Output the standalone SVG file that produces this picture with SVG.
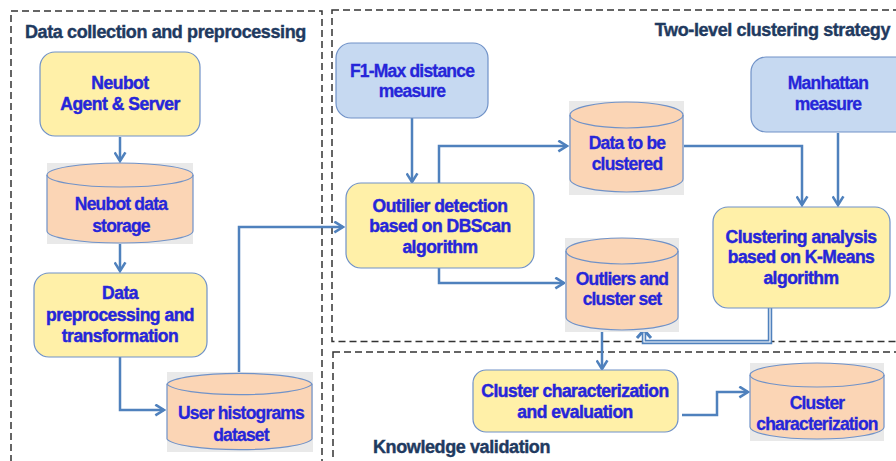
<svg xmlns="http://www.w3.org/2000/svg" width="896" height="461" viewBox="0 0 896 461">
<defs>
<marker id="arr" viewBox="0 0 12 12" refX="10" refY="6" markerWidth="13" markerHeight="13" markerUnits="userSpaceOnUse" orient="auto">
<path d="M2,1 L10,6 L2,11" fill="none" stroke="#4f81bd" stroke-width="2.4"/>
</marker>
</defs>
<style>
.panel{fill:none;stroke:#333;stroke-width:1.5;stroke-dasharray:7 4}
.title{font-family:"Liberation Sans",Arial,sans-serif;font-weight:bold;font-size:18px;fill:#1f3a60;stroke:#1f3a60;stroke-width:0.4;letter-spacing:-0.4px}
.t{font-family:"Liberation Sans",Arial,sans-serif;font-weight:bold;font-size:17.5px;fill:#2626d9;stroke:#2626d9;stroke-width:0.45;text-anchor:middle;letter-spacing:-0.5px}
.tn{font-family:"Liberation Sans",Arial,sans-serif;font-weight:bold;font-size:17.5px;fill:#2626d9;stroke:#2626d9;stroke-width:0.3;text-anchor:middle;letter-spacing:-0.8px}
.yb{fill:#fff0a8;stroke:#7092c8;stroke-width:1.2}
.bb{fill:#c6d9f1;stroke:#7092c8;stroke-width:1.2}
.cyl{fill:#fbd5b5;stroke:#7092c8;stroke-width:1.2}
.cl{fill:none;stroke:#7092c8;stroke-width:1.2}
.sh{fill:#e9e9e9}
.c{fill:none;stroke:#4f81bd;stroke-width:2.5;marker-end:url(#arr)}
</style>

<rect class="panel" x="11" y="11" width="311" height="470"/>
<rect class="panel" x="332" y="10" width="600" height="331.5"/>
<rect class="panel" x="333" y="352" width="600" height="140"/>

<text class="title" x="25" y="38">Data collection and preprocessing</text>
<text class="title" x="890" y="36" text-anchor="end">Two-level clustering strategy</text>
<text class="title" x="373" y="453">Knowledge validation</text>

<g id="connectors">
<path class="c" d="M120,137 V161"/>
<path class="c" d="M120,244 V271"/>
<path class="c" d="M120,357 V410 H164"/>
<path class="c" d="M239,372 V227 H343"/>
<path class="c" d="M412,118 V182"/>
<path class="c" d="M439,183 V146 H567"/>
<path class="c" d="M439,268 V283 H564"/>
<path class="c" d="M683,146 H802 V205"/>
<path class="c" d="M838,133 V205"/>
<path d="M770,308 V342 H644 V333" fill="none" stroke="#4f81bd" stroke-width="4.5"/>
<path d="M770,308 V342 H644 V333" fill="none" stroke="#ffffff" stroke-width="1.2"/>
<path d="M637,338 L644,330 L651,338" fill="none" stroke="#4f81bd" stroke-width="3"/>
<path class="c" d="M602,330 V369"/>
<path class="c" d="M682,415 H717 V392 H748"/>
</g>

<g id="neubot">
<rect class="yb" x="40" y="52" width="160" height="84" rx="15"/>
<text class="t" x="120" y="89">Neubot</text>
<text class="t" x="120" y="110">Agent &amp; Server</text>
</g>

<g id="storage">
<rect class="sh" x="47" y="163" width="146" height="81"/>
<path class="cyl" d="M47,175 A73,12 0 0 1 193,175 V231 A73,12 0 0 1 47,231 Z"/>
<path class="cl" d="M47,175 A73,12 0 0 0 193,175"/>
<text class="tn" x="121" y="210">Neubot data</text>
<text class="tn" x="121" y="232">storage</text>
</g>

<g id="preprocessing">
<rect class="yb" x="34" y="273" width="173" height="84" rx="15"/>
<text class="t" x="120" y="299">Data</text>
<text class="t" x="120" y="321">preprocessing and</text>
<text class="t" x="120" y="342">transformation</text>
</g>

<g id="histograms">
<rect class="sh" x="167" y="372" width="146" height="80"/>
<path class="cyl" d="M167,384 A73,12 0 0 1 312,384 V439 A73,12 0 0 1 167,439 Z"/>
<path class="cl" d="M167,384 A73,12 0 0 0 312,384"/>
<text class="tn" x="241" y="419">User histograms</text>
<text class="tn" x="241" y="441">dataset</text>
</g>

<g id="f1max">
<rect class="bb" x="336" y="43" width="152" height="75" rx="15"/>
<text class="tn" x="412" y="77">F1-Max distance</text>
<text class="tn" x="412" y="97">measure</text>
</g>

<g id="dbscan">
<rect class="yb" x="346" y="183" width="188" height="85" rx="15"/>
<text class="t" x="440" y="212">Outilier detection</text>
<text class="t" x="440" y="232">based on DBScan</text>
<text class="t" x="440" y="253">algorithm</text>
</g>

<g id="tobeclustered">
<rect class="sh" x="569" y="101" width="115" height="94"/>
<path class="cyl" d="M570,115 A56.5,13 0 0 1 683,115 V179 A56.5,13 0 0 1 570,179 Z"/>
<path class="cl" d="M570,115 A56.5,13 0 0 0 683,115"/>
<text class="tn" x="627" y="149">Data to be</text>
<text class="tn" x="627" y="170">clustered</text>
</g>

<g id="manhattan">
<rect class="bb" x="751" y="57" width="160" height="75" rx="15"/>
<text class="tn" x="828" y="89">Manhattan</text>
<text class="tn" x="828" y="110">measure</text>
</g>

<g id="kmeans">
<rect class="yb" x="713" y="207" width="177" height="101" rx="15"/>
<text class="t" x="801" y="243">Clustering analysis</text>
<text class="t" x="801" y="263">based on K-Means</text>
<text class="t" x="801" y="284">algorithm</text>
</g>

<g id="outliers">
<rect class="sh" x="565" y="238" width="114" height="94"/>
<path class="cyl" d="M566,251 A56,13 0 0 1 678,251 V317 A56,13 0 0 1 566,317 Z"/>
<path class="cl" d="M566,251 A56,13 0 0 0 678,251"/>
<text class="tn" x="622" y="285">Outliers and</text>
<text class="tn" x="622" y="305">cluster set</text>
</g>

<g id="evaluation">
<rect class="yb" x="473" y="370" width="205" height="62" rx="13"/>
<text class="t" x="575" y="397">Cluster characterization</text>
<text class="t" x="575" y="418">and evaluation</text>
</g>

<g id="characterization">
<rect class="sh" x="750" y="363" width="134" height="78"/>
<path class="cyl" d="M750,375 A67,12 0 0 1 884,375 V427 A67,12 0 0 1 750,427 Z"/>
<path class="cl" d="M750,375 A67,12 0 0 0 884,375"/>
<text class="tn" x="817" y="409">Cluster</text>
<text class="tn" x="817" y="430">characterization</text>
</g>
</svg>
